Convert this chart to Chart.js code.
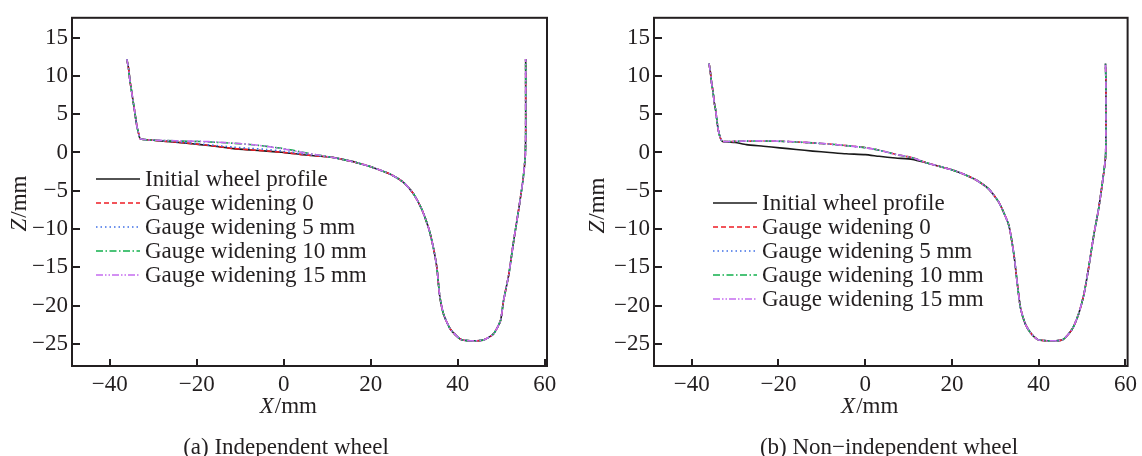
<!DOCTYPE html>
<html>
<head>
<meta charset="utf-8">
<script src="https://cdn.jsdelivr.net/npm/chart.js@4/dist/chart.umd.min.js"></script>
<style>
  html, body { margin: 0; padding: 0; background: #fff; }
  #wrap { position: relative; width: 1142px; height: 456px; overflow: hidden; }
  canvas { position: absolute; top: 0; }
  .caption {
    position: absolute; top: 434px; line-height: 26px;
    font-family: 'Liberation Serif', 'Times New Roman', serif; font-size: 23px;
    color: #231f20; white-space: nowrap; transform: translateX(-50%);
  }
</style>
</head>
<body>
<div id="wrap">
  <canvas id="chartA" width="571" height="456" style="left:0"></canvas>
  <canvas id="chartB" width="571" height="456" style="left:571px"></canvas>
  <div class="caption" style="left:286px">(a) Independent wheel</div>
  <div class="caption" style="left:889px">(b) Non−independent wheel</div>
</div>
<script>
// axes
const xTicks = [-40, -20, 0, 20, 40, 60];
const zTicks = [-25, -20, -15, -10, -5, 0, 5, 10, 15];

const seriesNames = ['Initial wheel profile', 'Gauge widening 0', 'Gauge widening 5 mm', 'Gauge widening 10 mm', 'Gauge widening 15 mm'];
const seriesColors = ['#1a1a1a', '#ee1c25', '#3f6fe6', '#12b04c', '#c56cf0'];
const seriesDashes = [[], [5, 3], [1.5, 3], [7, 2.5, 1.5, 2.5], [7, 2, 1.5, 2, 1.5, 2]];

// (a) independent wheel  [X mm, Z mm]
const aRimEdge = [[-36.1, 12.2], [-35.7, 11.0], [-35.4, 9.5], [-35.0, 8.0], [-34.6, 6.5], [-34.2, 5.0], [-33.8, 3.5], [-33.4, 2.5], [-33.0, 1.8]];
const aTreadInitial = [[-30.0, 1.6], [-26.9, 1.45], [-23.0, 1.25], [-19.2, 1.03], [-15.4, 0.78], [-11.6, 0.5], [-7.8, 0.33], [-3.9, 0.18], [0, 0.0], [3.8, -0.26], [7.5, -0.45], [10.7, -0.6]];
const aTreadGauge0 = [[-30.0, 1.6], [-26.9, 1.45], [-23.0, 1.27], [-19.2, 1.05], [-15.4, 0.8], [-11.6, 0.52], [-7.8, 0.35], [-3.9, 0.2], [0, 0.02], [3.8, -0.25], [7.5, -0.45], [10.7, -0.6]];
const aTreadGauge5 = [[-30.0, 1.6], [-26.9, 1.5], [-23.0, 1.3], [-19.2, 1.1], [-15.4, 0.9], [-11.6, 0.7], [-7.8, 0.55], [-3.9, 0.4], [0, 0.15], [3.8, -0.15], [7.5, -0.4], [10.7, -0.6]];
const aTreadGauge10 = [[-30.0, 1.6], [-26.9, 1.55], [-23.0, 1.48], [-19.2, 1.43], [-15.4, 1.33], [-11.6, 1.2], [-7.8, 1.05], [-3.9, 0.8], [0, 0.5], [3.8, 0.1], [7.5, -0.3], [10.7, -0.6]];
const aTreadGauge15 = [[-30.0, 1.6], [-26.9, 1.57], [-23.0, 1.5], [-19.2, 1.46], [-15.4, 1.36], [-11.6, 1.22], [-7.8, 1.05], [-3.9, 0.8], [0, 0.45], [3.8, 0.05], [7.5, -0.3], [10.7, -0.6]];
const aFlange = [[13.5, -0.9], [16.8, -1.33], [20.6, -1.98], [24.5, -2.84], [27.5, -3.9], [29.8, -5.4], [31.7, -7.4], [33.3, -9.9], [34.4, -12.5], [35.2, -15.1], [35.8, -18.6], [36.7, -21.1], [38.3, -23.1], [40.6, -24.4], [42.8, -24.6], [45.9, -24.5], [48.2, -23.7], [49.8, -22.0], [50.5, -19.4], [51.7, -16.0], [52.8, -11.7], [54.0, -7.4], [55.0, -3.5], [55.5, -0.5], [55.6, 2.5], [55.6, 9.0], [55.6, 12.2]];

// (b) non-independent wheel
const bRimEdge = [[-36.0, 11.6], [-35.7, 10.5], [-35.4, 9.0], [-35.1, 8.0], [-34.8, 6.5], [-34.5, 5.6], [-34.2, 4.2], [-33.9, 3.0], [-33.4, 1.9], [-32.9, 1.45]];
const bTreadInitial = [[-30.0, 1.3], [-27.4, 1.03], [-23.5, 0.82], [-19.7, 0.6], [-15.9, 0.4], [-12.1, 0.18], [-8.2, 0.0], [-4.4, -0.17], [0, -0.28], [3.2, -0.5], [7.0, -0.72], [10.9, -0.9]];
const bTreadGauge0 = [[-30.0, 1.45], [-27.4, 1.47], [-23.5, 1.5], [-19.7, 1.47], [-15.9, 1.38], [-12.1, 1.25], [-8.2, 1.1], [-4.4, 0.9], [0, 0.65], [3.2, 0.3], [7.1, -0.26], [10.9, -0.68]];
const bTreadGauge5 = [[-30.0, 1.45], [-27.4, 1.47], [-23.5, 1.48], [-19.7, 1.45], [-15.9, 1.37], [-12.1, 1.24], [-8.2, 1.08], [-4.4, 0.88], [0, 0.62], [3.2, 0.28], [7.1, -0.28], [10.9, -0.7]];
const bTreadGauge10 = [[-30.0, 1.45], [-27.4, 1.48], [-23.5, 1.5], [-19.7, 1.47], [-15.9, 1.38], [-12.1, 1.25], [-8.2, 1.1], [-4.4, 0.9], [0, 0.64], [3.2, 0.3], [7.1, -0.26], [10.9, -0.68]];
const bTreadGauge15 = [[-30.0, 1.46], [-27.4, 1.5], [-23.5, 1.52], [-19.7, 1.48], [-15.9, 1.4], [-12.1, 1.27], [-8.2, 1.1], [-4.4, 0.9], [0, 0.63], [3.2, 0.3], [7.1, -0.25], [10.9, -0.68]];
const bFlange = [[14.0, -1.33], [17.0, -1.8], [20.1, -2.28], [23.0, -2.9], [25.5, -3.57], [28.5, -4.78], [30.8, -6.5], [33.1, -9.5], [34.3, -13.4], [35.0, -16.8], [35.8, -20.3], [36.9, -22.4], [38.3, -23.7], [40.0, -24.5], [45.4, -24.5], [47.7, -23.1], [49.2, -21.1], [50.4, -18.6], [51.5, -15.1], [52.7, -10.8], [53.8, -7.4], [54.7, -3.9], [55.4, -0.68], [55.5, 2.5], [55.5, 9.0], [55.4, 11.6]];

const aTreads = [aTreadInitial, aTreadGauge0, aTreadGauge5, aTreadGauge10, aTreadGauge15];
const bTreads = [bTreadInitial, bTreadGauge0, bTreadGauge5, bTreadGauge10, bTreadGauge15];

const FONT = "'Liberation Serif', 'Times New Roman', serif";
const INK = '#231f20';
const minus = v => String(v).replace('-', '\u2212');

// frame, inward ticks, axis titles and legend
const decor = {
  id: 'decor',
  afterDraw(chart, args, o) {
    const { ctx, chartArea: a, scales: { x, y } } = chart;
    ctx.save();
    ctx.strokeStyle = INK;
    ctx.lineWidth = 2;
    ctx.strokeRect(a.left, a.top, a.right - a.left, a.bottom - a.top);
    ctx.beginPath();
    xTicks.forEach(v => {
      const px = Math.round(x.getPixelForValue(v));
      ctx.moveTo(px, a.bottom); ctx.lineTo(px, a.bottom - 7);
    });
    zTicks.forEach(v => {
      const py = Math.round(y.getPixelForValue(v));
      ctx.moveTo(a.left, py); ctx.lineTo(a.left + 8, py);
    });
    ctx.stroke();

    // axis titles: italic symbol + unit
    ctx.fillStyle = INK;
    ctx.textBaseline = 'middle';
    const drawTitle = (sym, cx, cy) => {
      ctx.font = `italic 23px ${FONT}`;
      const w1 = ctx.measureText(sym).width;
      ctx.font = `23px ${FONT}`;
      const w2 = ctx.measureText('/mm').width;
      const x0 = cx - (w1 + w2) / 2;
      ctx.textAlign = 'left';
      ctx.font = `italic 23px ${FONT}`;
      ctx.fillText(sym, x0, cy);
      ctx.font = `23px ${FONT}`;
      ctx.fillText('/mm', x0 + w1 + 1, cy);
    };
    drawTitle('X', x.getPixelForValue(0) + 4, 407);
    ctx.save();
    ctx.translate(o.zTitleX, o.zTitleY);
    ctx.rotate(-Math.PI / 2);
    drawTitle('Z', 0, 0);
    ctx.restore();

    // legend
    chart.data.datasets.forEach((ds, i) => {
      const ly = o.legendY + i * 24;
      ctx.beginPath();
      ctx.setLineDash(ds.borderDash || []);
      ctx.strokeStyle = ds.borderColor;
      ctx.lineWidth = 1.6;
      ctx.moveTo(o.legendX, ly); ctx.lineTo(o.legendX + 44, ly);
      ctx.stroke();
      ctx.setLineDash([]);
      ctx.fillStyle = INK;
      ctx.font = `23px ${FONT}`;
      ctx.textAlign = 'left';
      ctx.fillText(ds.label, o.legendX + 49, ly + 1);
    });
    ctx.restore();
  }
};

function makeChart(id, rim, treads, flange, yWidth, padRight, deco) {
  const datasets = seriesNames.map((name, i) => ({
    label: name,
    data: [...rim, ...treads[i], ...flange].map(([x, y]) => ({ x, y })),
    borderColor: seriesColors[i],
    borderDash: seriesDashes[i],
    borderWidth: 1.6,
    pointRadius: 0,
    showLine: true,
    tension: 0.2,
    order: 5 - i
  }));
  return new Chart(document.getElementById(id), {
    type: 'scatter',
    data: { datasets },
    plugins: [decor],
    options: {
      responsive: false,
      animation: false,
      devicePixelRatio: 1,
      layout: { padding: { left: 0, top: 14, right: padRight, bottom: 0 } },
      plugins: { legend: { display: false }, tooltip: { enabled: false }, decor: deco },
      scales: {
        x: {
          type: 'linear', min: -48.7, max: 60.5,
          grid: { display: false, drawTicks: false },
          border: { display: false },
          afterBuildTicks: s => { s.ticks = xTicks.map(v => ({ value: v })); },
          afterFit: s => { s.height = 90; },
          ticks: { padding: 5, color: INK, font: { family: FONT, size: 23 }, callback: minus, maxRotation: 0, autoSkip: false }
        },
        y: {
          type: 'linear', min: -27.9, max: 17.6,
          grid: { display: false, drawTicks: false },
          border: { display: false },
          afterBuildTicks: s => { s.ticks = zTicks.map(v => ({ value: v })); },
          afterFit: s => { s.width = yWidth; },
          ticks: { padding: 4, color: INK, font: { family: FONT, size: 23 }, callback: minus, autoSkip: false }
        }
      }
    }
  });
}

makeChart('chartA', aRimEdge, aTreads, aFlange, 72, 24, { legendX: 96, legendY: 179, zTitleX: 20, zTitleY: 204 });
makeChart('chartB', bRimEdge, bTreads, bFlange, 83, 13, { legendX: 142, legendY: 203, zTitleX: 27, zTitleY: 206 });
</script>
</body>
</html>
